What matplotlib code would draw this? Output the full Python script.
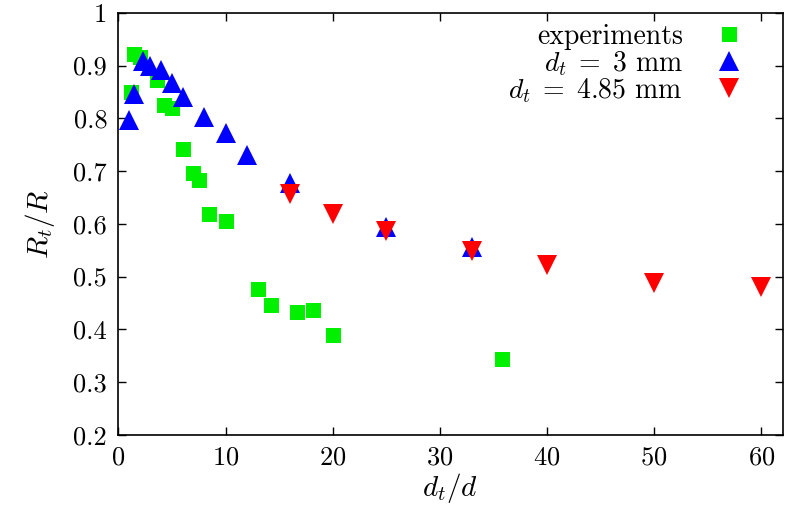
import matplotlib
matplotlib.use("Agg")
import matplotlib.pyplot as plt

plt.rcParams['font.family'] = ['cmr10', 'DejaVu Serif']
plt.rcParams['mathtext.fontset'] = 'cm'
plt.rcParams['axes.formatter.use_mathtext'] = True

# experiments
exp_x = [1.2, 1.5, 2.0, 3.6, 4.3, 5.0, 6.0, 7.0, 7.5, 8.5, 10.0,
         13.0, 14.2, 16.7, 18.2, 20.0, 35.8]
exp_y = [0.85, 0.921, 0.917, 0.873, 0.826, 0.82, 0.742, 0.697, 0.683, 0.618, 0.605,
         0.476, 0.446, 0.432, 0.436, 0.39, 0.343]

# d_t = 3 mm
d3_x = [1.0, 1.5, 2.3, 3.0, 4.0, 5.0, 6.0, 8.0, 10.0, 12.0, 16.0, 25.0, 33.0]
d3_y = [0.797, 0.846, 0.908, 0.900, 0.892, 0.866, 0.840, 0.803, 0.772, 0.730, 0.678, 0.594, 0.556]

# d_t = 4.85 mm
d485_x = [16.0, 20.0, 25.0, 33.0, 40.0, 50.0, 60.0]
d485_y = [0.656, 0.619, 0.587, 0.549, 0.522, 0.488, 0.481]

fig = plt.figure(figsize=(7.89, 5.11), dpi=100)
ax = fig.add_axes([0.150, 0.149, 0.842, 0.826])

ax.plot(exp_x, exp_y, 's', color='#00f000', markersize=10.8, markeredgewidth=0,
        label='experiments')
ax.plot(d3_x, d3_y, '^', color='#0000ff', markersize=14, markeredgewidth=0,
        label=r'$d_t\;=\;3$ mm')
ax.plot(d485_x, d485_y, 'v', color='#ff0000', markersize=14, markeredgewidth=0,
        label=r'$d_t\;=\;4.85$ mm')

ax.set_xlim(0, 62)
ax.set_ylim(0.2, 1.0)
ax.set_xticks([0, 10, 20, 30, 40, 50, 60])
ax.set_yticks([0.2, 0.3, 0.4, 0.5, 0.6, 0.7, 0.8, 0.9, 1.0])
ax.set_yticklabels(['0.2', '0.3', '0.4', '0.5', '0.6', '0.7', '0.8', '0.9', '1'])
ax.tick_params(direction='in', length=6, width=1, top=True, right=True,
               labelsize=19, pad=8)
for s in ax.spines.values():
    s.set_linewidth(1.2)

ax.set_xlabel('$d_t/d$', fontsize=21, labelpad=1)
ax.set_ylabel('$R_t/R$', fontsize=21, labelpad=12)

leg = ax.legend(loc='upper right', bbox_to_anchor=(0.967, 1.0), frameon=False,
                markerfirst=False, fontsize=20, handletextpad=0.9,
                borderaxespad=0, labelspacing=-0.05, handlelength=1.5)
for t in leg.get_texts():
    t.set_ha('right')

fig.savefig('out.png', dpi=100)
